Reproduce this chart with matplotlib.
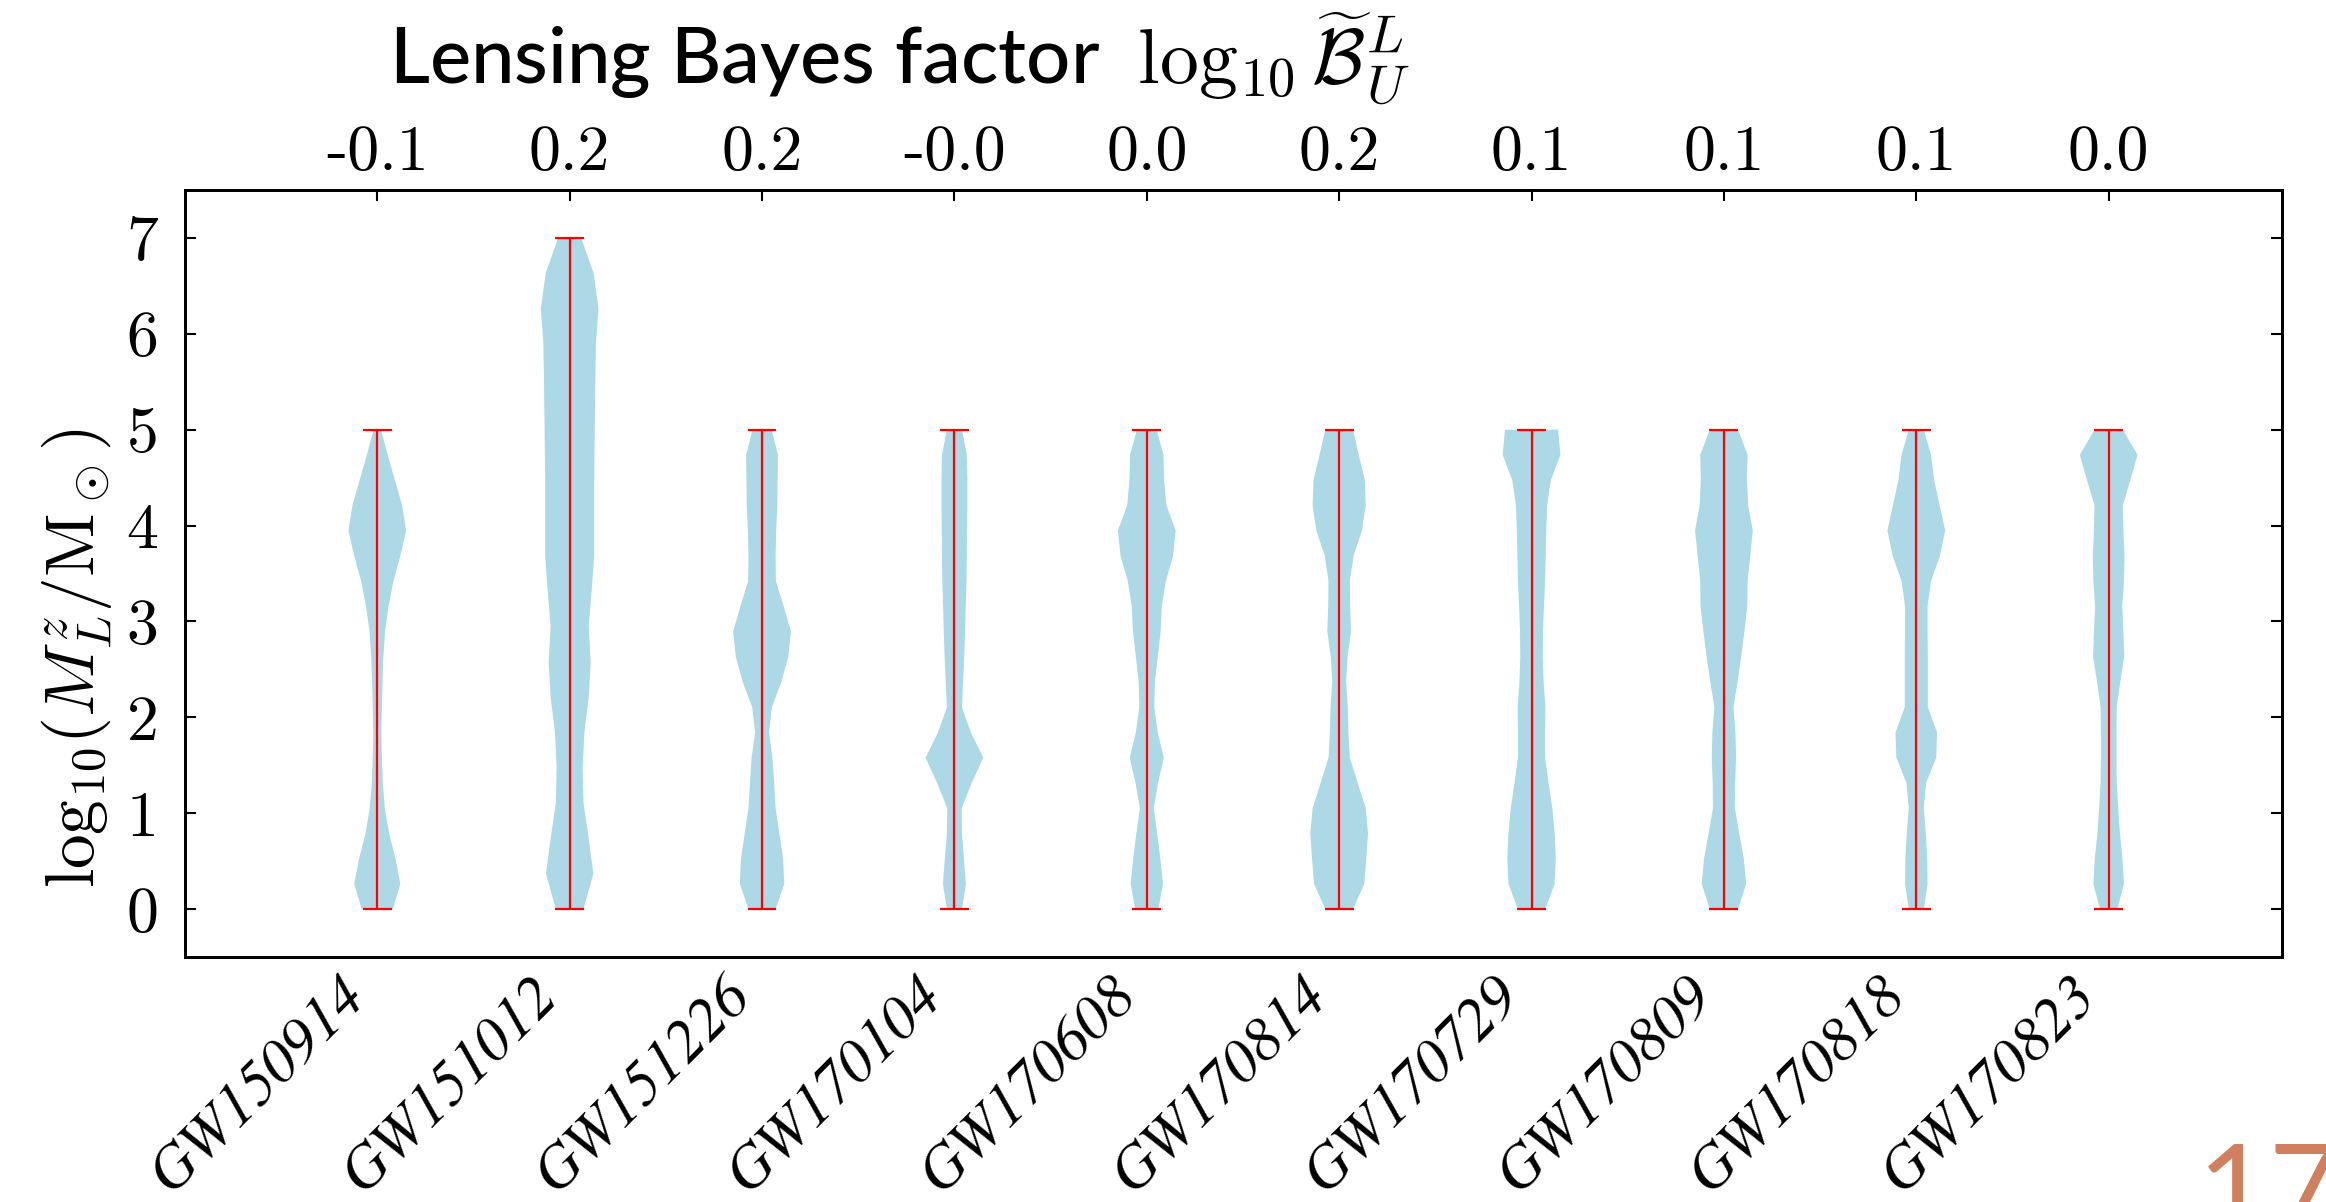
import matplotlib
matplotlib.use("Agg")
import matplotlib.pyplot as plt
import numpy as np

plt.rcParams["mathtext.fontset"] = "cm"

# Events and their lensing Bayes factors (top axis)
events = ["GW150914", "GW151012", "GW151226", "GW170104", "GW170608",
          "GW170814", "GW170729", "GW170809", "GW170818", "GW170823"]
bayes_factors = ["-0.1", "0.2", "0.2", "-0.0", "0.0", "0.2", "0.1", "0.1", "0.1", "0.0"]

# Prior range of log10 lens mass for each event
mass_min = [0, 0, 0, 0, 0, 0, 0, 0, 0, 0]
mass_max = [5, 7, 5, 5, 5, 5, 5, 5, 5, 5]

# Relative posterior density at 20 evenly spaced points from min to max
dens_gw150914 = [0.54, 0.80, 0.63, 0.41, 0.26, 0.19, 0.16, 0.14, 0.16, 0.18,
                 0.21, 0.27, 0.39, 0.56, 0.80, 1.00, 0.86, 0.61, 0.36, 0.13]
dens_gw151012 = [0.48, 0.82, 0.66, 0.48, 0.45, 0.51, 0.66, 0.73, 0.66, 0.76,
                 0.85, 0.85, 0.85, 0.86, 0.875, 0.89, 0.91, 1.00, 0.83, 0.40]
dens_gw151226 = [0.47, 0.77, 0.73, 0.60, 0.47, 0.42, 0.36, 0.24, 0.34, 0.67,
                 0.91, 1.00, 0.75, 0.48, 0.47, 0.49, 0.53, 0.54, 0.55, 0.33]
dens_gw170104 = [0.26, 0.40, 0.33, 0.26, 0.25, 0.60, 1.00, 0.57, 0.26, 0.30,
                 0.34, 0.37, 0.39, 0.42, 0.43, 0.44, 0.45, 0.45, 0.43, 0.26]
dens_gw170608 = [0.40, 0.56, 0.47, 0.36, 0.24, 0.39, 0.59, 0.38, 0.26, 0.28,
                 0.38, 0.48, 0.52, 0.66, 0.91, 1.00, 0.68, 0.60, 0.58, 0.34]
dens_gw170814 = [0.48, 0.87, 0.94, 1.00, 0.92, 0.64, 0.37, 0.32, 0.30, 0.24,
                 0.29, 0.41, 0.38, 0.37, 0.50, 0.79, 0.92, 0.89, 0.68, 0.48]
dens_gw170729 = [0.47, 0.80, 0.84, 0.80, 0.72, 0.59, 0.47, 0.47, 0.48, 0.42,
                 0.39, 0.40, 0.43, 0.47, 0.49, 0.51, 0.54, 0.67, 1.00, 0.92]
dens_gw170809 = [0.49, 0.77, 0.69, 0.53, 0.38, 0.39, 0.42, 0.40, 0.33, 0.47,
                 0.60, 0.71, 0.81, 0.82, 0.91, 1.00, 0.84, 0.80, 0.82, 0.49]
dens_gw170818 = [0.26, 0.39, 0.38, 0.33, 0.26, 0.34, 0.69, 0.72, 0.40, 0.40,
                 0.40, 0.39, 0.39, 0.51, 0.82, 1.00, 0.81, 0.62, 0.51, 0.26]
dens_gw170823 = [0.30, 0.53, 0.48, 0.39, 0.33, 0.28, 0.27, 0.27, 0.28, 0.40,
                 0.54, 0.51, 0.47, 0.53, 0.55, 0.51, 0.49, 0.75, 1.00, 0.49]

densities = [dens_gw150914, dens_gw151012, dens_gw151226, dens_gw170104,
             dens_gw170608, dens_gw170814, dens_gw170729, dens_gw170809,
             dens_gw170818, dens_gw170823]

positions = np.arange(1, len(events) + 1)

vpstats = []
for lo, hi, d in zip(mass_min, mass_max, densities):
    coords = np.linspace(lo, hi, len(d))
    vals = np.asarray(d, dtype=float)
    centre = float(np.average(coords, weights=vals))
    vpstats.append(dict(coords=coords, vals=vals, mean=centre,
                        median=centre, min=lo, max=hi))

fig = plt.figure(figsize=(23.26, 12.02), dpi=100)
ax = fig.add_axes([0.0795, 0.2038, 0.9015, 0.6382])

parts = ax.violin(vpstats, positions=positions, widths=0.3,
                  showmeans=False, showextrema=True, showmedians=False)
for body in parts["bodies"]:
    body.set_facecolor("#add8e6")
    body.set_edgecolor("none")
    body.set_alpha(1.0)
for key in ("cbars", "cmins", "cmaxes"):
    parts[key].set_color("red")
    parts[key].set_linewidth(1.6)

ax.set_xlim(0, 10.9)
ax.set_ylim(-0.5, 7.5)

tick_fs = 46
ax.set_yticks(range(8))
ax.set_yticklabels([str(v) for v in range(8)], fontfamily="cmr10", fontsize=tick_fs)
ax.set_xticks(positions)
ax.set_xticklabels(events, rotation=45, ha="right", fontfamily="STIXGeneral",
                   style="italic", fontsize=44)
ax.tick_params(axis="x", which="both", length=0, pad=7)
ax.tick_params(axis="y", which="both", direction="in", length=8, width=1.5,
               left=True, right=True, pad=19)

ax.set_ylabel(r"$\mathrm{log}_{10}(M_L^z/\mathrm{M}_\odot)$", fontsize=50)
ax.yaxis.set_label_coords(-0.034, 0.39)

for sp in ax.spines.values():
    sp.set_linewidth(2.0)

# Top axis: lensing Bayes factor of each event
ax2 = ax.twiny()
ax2.set_xlim(ax.get_xlim())
ax2.set_xticks(positions)
ax2.set_xticklabels(bayes_factors, fontfamily="cmr10", fontsize=tick_fs)
ax2.tick_params(axis="x", direction="in", length=8, width=1.5, pad=5)
for sp in ax2.spines.values():
    sp.set_linewidth(2.0)

fig.text(389 / 2326, 1 - 84 / 1202,
         r"Lensing Bayes factor  $\mathrm{log}_{10}\,\widetilde{\mathcal{B}}_U^L$",
         fontfamily="Lato", fontweight="medium", fontsize=56, ha="left",
         va="baseline")

# Page number
fig.text(2198 / 2326, -0.025, "17", fontfamily="Lato", fontweight="normal",
         fontsize=88, color="#d0805f", ha="left", va="baseline")

fig.savefig("out.png", dpi=100)
